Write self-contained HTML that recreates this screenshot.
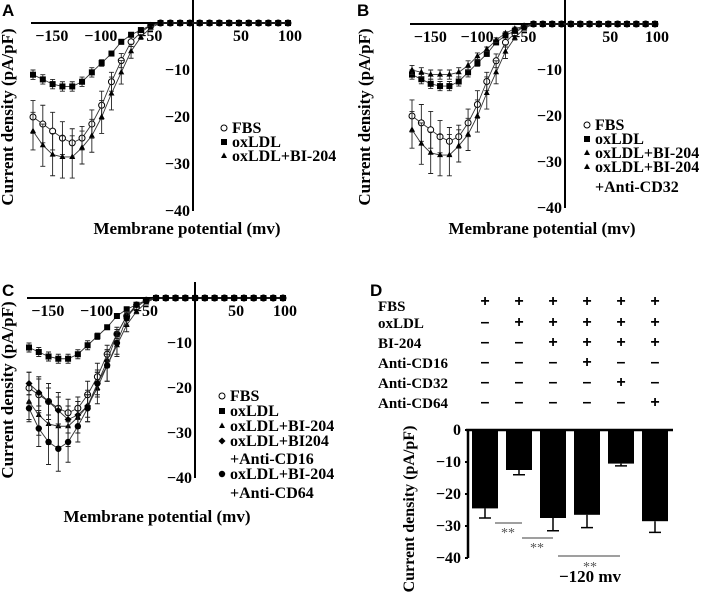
<!DOCTYPE html>
<html><head><meta charset="utf-8">
<style>
html,body{margin:0;padding:0;background:#fff;}
svg{display:block;font-family:"Liberation Serif",serif;font-weight:bold;}
.sans{font-family:"Liberation Sans",sans-serif;}
</style></head>
<body>
<svg id="fig" width="709" height="606" viewBox="0 0 709 606"></svg>
<script>
// ===== Data =====
const voltages = [-160,-150,-140,-130,-120,-110,-100,-90,-80,-70,-60,-50,-40,-30,-20,-10,0,10,20,30,40,50,60,70,80,90,100];
const fbsA   = [-20,-21.5,-23,-24.5,-25.5,-24.5,-21.5,-17.5,-12.5,-8,-4,-2,-0.5,0,0,0,0,0,0,0,0,0,0,0,0,0,0];
const fbsErr = [3.5,4,4,3.5,3,2.5,3,3,2,1.5,1,0.5,0.3,0,0,0,0,0,0,0,0,0,0,0,0,0,0];
const oxA    = [-11,-12,-13,-13.5,-13.5,-12.5,-10.5,-8.5,-6.5,-4,-2.5,-1.5,-0.5,0,0,0,0,0,0,0,0,0,0,0,0,0,0];
const oxErr  = [1,1,1,1,1,1,1,0.7,0.5,0.5,0.5,0.3,0.2,0,0,0,0,0,0,0,0,0,0,0,0,0,0];
const biA    = [-23,-26,-28,-28.5,-28.5,-26.5,-24,-20,-15,-10.5,-6,-3,-1,0,0,0,0,0,0,0,0,0,0,0,0,0,0];
const biErr  = [4,4.5,4.5,4.5,4.5,3.5,3.5,3.5,3.5,2.5,1.5,0.5,0.3,0,0,0,0,0,0,0,0,0,0,0,0,0,0];
const cd32B  = [-10,-10.5,-11,-11,-11,-10.5,-9,-7,-5.5,-3.5,-2,-1,-0.5,0,0,0,0,0,0,0,0,0,0,0,0,0,0];
const cd32Err= [1,1,1,1,1,1,1,0.7,0.5,0.5,0.3,0.3,0.2,0,0,0,0,0,0,0,0,0,0,0,0,0,0];
const cd16C  = [-19,-21,-23,-25,-27,-26,-24,-19,-14,-8,-4,-1.5,-0.5,0,0,0,0,0,0,0,0,0,0,0,0,0,0];
const cd16Err= [2.5,3,3,3,3,3,2.5,2.5,1.5,1,0.7,0.4,0.2,0,0,0,0,0,0,0,0,0,0,0,0,0,0];
const cd64C  = [-24.5,-29,-32,-33.5,-32,-28.5,-24.5,-19,-15,-10,-4.5,-1.5,-0.5,0,0,0,0,0,0,0,0,0,0,0,0,0,0];
const cd64Err= [3,4,5,5,4.5,3.5,3,3,3.5,2.5,1.5,0.5,0.3,0,0,0,0,0,0,0,0,0,0,0,0,0,0];
const xTicks = [-150,-100,-50,50,100];
const yTicks = [-10,-20,-30,-40];

const barGroups = ["g1","g2","g3","g4","g5","g6"];
const barValues = [-24.5,-12.5,-27.5,-26.5,-10.5,-28.5];
const barErrors = [3,1.5,4,4,0.7,3.5];
const barYTicks = [0,-10,-20,-30,-40];
const tableRows = ["FBS","oxLDL","BI-204","Anti-CD16","Anti-CD32","Anti-CD64"];
const tableSigns = [
 ["+","+","+","+","+","+"],
 ["–","+","+","+","+","+"],
 ["–","–","+","+","+","+"],
 ["–","–","–","+","–","–"],
 ["–","–","–","–","+","–"],
 ["–","–","–","–","–","+"]];

// ===== Helpers =====
const NS="http://www.w3.org/2000/svg";
const svg=document.getElementById('fig');
function mk(tag,attrs,parent,text){const e=document.createElementNS(NS,tag);for(const k in attrs)e.setAttribute(k,attrs[k]);if(text!==undefined)e.textContent=text;(parent||svg).appendChild(e);return e;}

function marker(g,type,x,y){
  let e;
  if(type==='circle'){e=mk('circle',{cx:x,cy:y,r:3,fill:'#fff',stroke:'#000','stroke-width':1},g);}
  else if(type==='square'){e=mk('rect',{x:x-3,y:y-3,width:6,height:6,fill:'#000'},g);}
  else if(type==='star'){e=mk('path',{d:`M${x},${y-3.5}L${x+3},${y+2}L${x-3},${y+2}Z`,fill:'#000'},g);}
  else if(type==='diamond'){e=mk('path',{d:`M${x},${y-3.5}L${x+3.5},${y}L${x},${y+3.5}L${x-3.5},${y}Z`,fill:'#000'},g);}
  else {e=mk('circle',{cx:x,cy:y,r:3.2,fill:'#000'},g);}
  
  
}

function ivPanel(p){
  const g=mk('g',{});
  
  
  const xs=v=>p.xa+(v-(-160))*(p.xb-p.xa)/260;
  const ys=v=>p.y0-v*p.k;
  const lt=mk('text',{x:p.lx,y:p.ly,'font-size':17,class:'sans'},g,p.letter);
  
  const xa=mk('line',{x1:p.xa-2,x2:p.xb+3,y1:p.y0,y2:p.y0,stroke:'#000','stroke-width':2},g);
  
  const ya=mk('line',{x1:p.vx,x2:p.vx,y1:p.vtop,y2:ys(-40),stroke:'#000','stroke-width':2},g);
  
  xTicks.forEach(t=>{
    const tx=mk('text',{x:xs(t)+(t<0?9:2),y:p.y0+18,'font-size':16,'text-anchor':'middle'},g,(t<0?'−':'')+Math.abs(t));
    
  });
  yTicks.forEach(t=>{
    const ty=mk('text',{x:p.vx-3,y:ys(t)+5,'font-size':16,'text-anchor':'end'},g,'−'+Math.abs(t));
    
  });
  const xt=mk('text',{x:p.xtx,y:p.xty,'font-size':17,'text-anchor':'middle'},g,'Membrane potential (mv)');
  
  const yt=mk('text',{x:0,y:0,'font-size':17,'text-anchor':'middle',transform:`translate(${p.ytx},${p.yty}) rotate(-90)`},g,'Current density (pA/pF)');
  
  p.series.forEach(s=>{
    const sg=mk('g',{},g);
    
    
    let d='';
    voltages.forEach((v,i)=>{d+=(i?'L':'M')+xs(v)+','+ys(s.vals[i]);});
    mk('path',{d:d,fill:'none',stroke:'#333','stroke-width':0.9},sg);
    voltages.forEach((v,i)=>{
      const e=s.err[i];
      if(e>0){
        const x=xs(v),y1=ys(s.vals[i]-e),y2=ys(s.vals[i]+e);
        mk('path',{d:`M${x},${y1}L${x},${y2}M${x-2.5},${y1}L${x+2.5},${y1}M${x-2.5},${y2}L${x+2.5},${y2}`,stroke:'#222','stroke-width':0.9,fill:'none'},sg);
      }
    });
    voltages.forEach((v,i)=>marker(sg,s.m,xs(v),ys(s.vals[i])));
  });
  p.legend.forEach(l=>{
    if(l.m) marker(g,l.m,p.legx,l.y-5);
    const lt2=mk('text',{x:p.legx+8,y:l.y,'font-size':16},g,l.t);
    
  });
}

ivPanel({name:'panel-a',letter:'A',lx:2,ly:16,xa:33,xb:288,vx:193,vtop:0,y0:23,k:4.7,xtx:187,xty:234,ytx:13,yty:117,legx:224,
 series:[{id:'fbs',vals:fbsA,err:fbsErr,m:'circle'},{id:'oxldl',vals:oxA,err:oxErr,m:'square'},{id:'bi204',vals:biA,err:biErr,m:'star'}],
 legend:[{m:'circle',t:'FBS',y:133},{m:'square',t:'oxLDL',y:147},{m:'star',t:'oxLDL+BI-204',y:161}]});

ivPanel({name:'panel-b',letter:'B',lx:357,ly:16,xa:412,xb:655,vx:565,vtop:0,y0:24,k:4.6,xtx:542,xty:234,ytx:370,yty:117,legx:587,
 series:[{id:'fbs',vals:fbsA,err:fbsErr,m:'circle'},{id:'oxldl',vals:oxA,err:oxErr,m:'square'},{id:'bi204',vals:biA,err:biErr,m:'star'},{id:'anti-cd32',vals:cd32B,err:cd32Err,m:'star'}],
 legend:[{m:'circle',t:'FBS',y:130},{m:'square',t:'oxLDL',y:144},{m:'star',t:'oxLDL+BI-204',y:158},{m:'star',t:'oxLDL+BI-204',y:172},{t:'+Anti-CD32',y:192}]});

ivPanel({name:'panel-c',letter:'C',lx:2,ly:296,xa:29,xb:283,vx:195,vtop:282,y0:298,k:4.5,xtx:157,xty:522,ytx:13,yty:390,legx:222,
 series:[{id:'fbs',vals:fbsA,err:fbsErr,m:'circle'},{id:'oxldl',vals:oxA,err:oxErr,m:'square'},{id:'bi204',vals:biA,err:biErr,m:'star'},{id:'anti-cd16',vals:cd16C,err:cd16Err,m:'diamond'},{id:'anti-cd64',vals:cd64C,err:cd64Err,m:'dot'}],
 legend:[{m:'circle',t:'FBS',y:401},{m:'square',t:'oxLDL',y:416},{m:'star',t:'oxLDL+BI-204',y:431},{m:'diamond',t:'oxLDL+BI204',y:446},{t:'+Anti-CD16',y:464},{m:'dot',t:'oxLDL+BI-204',y:479},{t:'+Anti-CD64',y:498}]});

// ===== Panel D =====
(function(){
  const g=mk('g',{});
  
  
  const lt=mk('text',{x:370,y:296,'font-size':17,class:'sans'},g,'D');
  
  const y0=430,k=3.2,x0=485,step=34,bw=26;
  const ys=v=>y0-v*k;
  const xc=i=>x0+i*step;
  const rowY=[311,328,348,368,388,408];
  tableRows.forEach((r,ri)=>{
    const t=mk('text',{x:378,y:rowY[ri],'font-size':15},g,r);
    
    tableSigns[ri].forEach((s,ci)=>{
      const st=mk('text',{x:xc(ci),y:rowY[ri]-(ri===0?5:1),'font-size':16,'text-anchor':'middle',class:'sans'},g,s);
      
    });
  });
  barGroups.forEach((b,i)=>{
    const v=barValues[i],e=barErrors[i];
    const r=mk('rect',{x:xc(i)-bw/2,y:y0,width:bw,height:ys(v)-y0,fill:'#000'},g);
    
    const x=xc(i),yb=ys(v-e);
    const eb=mk('path',{d:`M${x},${ys(v)}L${x},${yb}M${x-6},${yb}L${x+6},${yb}`,stroke:'#000','stroke-width':1.5,fill:'none'},g);
    
  });
  const za=mk('line',{x1:466,x2:673,y1:y0,y2:y0,stroke:'#000','stroke-width':2.5},g);
  
  const ya=mk('line',{x1:468,x2:468,y1:y0-1,y2:ys(-40),stroke:'#000','stroke-width':2.5},g);
  
  barYTicks.forEach(t=>{
    const tt=mk('text',{x:461,y:ys(t)+5,'font-size':16,'text-anchor':'end'},g,t===0?'0':'−'+Math.abs(t));
    
    mk('line',{x1:465,x2:468,y1:ys(t),y2:ys(t),stroke:'#000','stroke-width':2},g);
  });
  const yt=mk('text',{x:0,y:0,'font-size':16,'text-anchor':'middle',transform:'translate(414,509) rotate(-90)'},g,'Current density (pA/pF)');
  
  [[495,522,523,508,537],[522,553,538,537,552],[558,620,556,590,571]].forEach(s=>{
    const l=mk('line',{x1:s[0],x2:s[1],y1:s[2],y2:s[2],stroke:'#666','stroke-width':1.2},g);
    
    const st=mk('text',{x:s[3],y:s[4],'font-size':14,'text-anchor':'middle',fill:'#555','font-weight':'normal'},g,'**');
    
  });
  const xl=mk('text',{x:590,y:582,'font-size':17,'text-anchor':'middle'},g,'−120 mv');
  
})();
</script>
</body></html>
